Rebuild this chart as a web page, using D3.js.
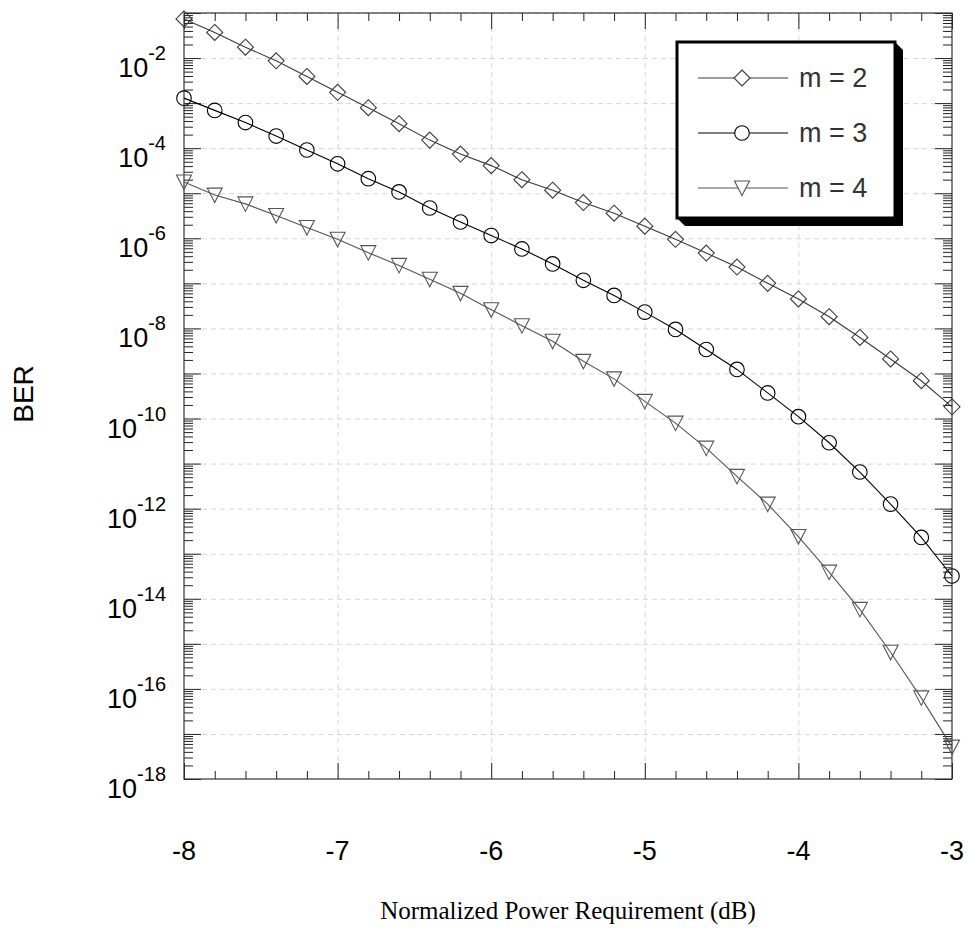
<!DOCTYPE html>
<html>
<head>
<meta charset="utf-8">
<script src="https://cdn.jsdelivr.net/npm/d3@7"></script>
<style>
  html, body { margin: 0; padding: 0; background: #fff; }
  svg { display: block; }
  .grid path { display: none; }
  .grid line { stroke: #d6d6d6; stroke-width: 1; stroke-dasharray: 5 4; }
  .tick-axis path { display: none; }
  .tick-axis line { stroke: #222; stroke-width: 1; }
</style>
</head>
<body>
<div id="chart"></div>
<script>
// BER vs normalized power

const powerDb = [-8, -7.8, -7.6, -7.4, -7.2, -7, -6.8, -6.6, -6.4, -6.2, -6, -5.8, -5.6,
  -5.4, -5.2, -5, -4.8, -4.6, -4.4, -4.2, -4, -3.8, -3.6, -3.4, -3.2, -3];

const berM2 = [7.4e-2, 3.7e-2, 1.74e-2, 8.7e-3, 3.9e-3, 1.74e-3, 7.9e-4, 3.5e-4, 1.51e-4,
  7.4e-5, 4.1e-5, 2.0e-5, 1.17e-5, 6.2e-6, 3.6e-6, 1.86e-6, 9.5e-7, 4.7e-7, 2.3e-7,
  1.0e-7, 4.5e-8, 1.82e-8, 6.3e-9, 2.1e-9, 6.9e-10, 1.82e-10];

const berM3 = [1.29e-3, 6.9e-4, 3.7e-4, 1.86e-4, 9.1e-5, 4.5e-5, 2.1e-5, 1.07e-5, 4.7e-6,
  2.3e-6, 1.15e-6, 5.8e-7, 2.7e-7, 1.17e-7, 5.4e-8, 2.3e-8, 9.5e-9, 3.4e-9, 1.23e-9,
  3.7e-10, 1.1e-10, 2.9e-11, 6.5e-12, 1.26e-12, 2.3e-13, 3.2e-14];

const berM4 = [1.78e-5, 9.1e-6, 5.8e-6, 3.2e-6, 1.74e-6, 9.5e-7, 4.8e-7, 2.5e-7, 1.23e-7,
  6.0e-8, 2.6e-8, 1.15e-8, 5.2e-9, 1.86e-9, 7.6e-10, 2.4e-10, 7.9e-11, 2.2e-11, 5.2e-12,
  1.26e-12, 2.4e-13, 3.9e-14, 5.8e-15, 6.5e-16, 6.3e-17, 5.1e-18];

const seriesNames = ['m = 2', 'm = 3', 'm = 4'];
const xTickValues = [-8, -7, -6, -5, -4, -3];
const yLabelExponents = [-18, -16, -14, -12, -10, -8, -6, -4, -2];
const xTitle = 'Normalized Power Requirement (dB)';
const yTitle = 'BER';

const width = 970;
const height = 938;
const plot = { left: 184, right: 952, top: 13, bottom: 779 };

const svg = d3.select('#chart')
  .append('svg')
  .attr('width', width)
  .attr('height', height);

const x = d3.scaleLinear().domain([-8, -3]).range([plot.left, plot.right]);
const y = d3.scaleLog().domain([1e-18, 1e-1]).range([plot.bottom, plot.top]);

// decade and minor tick positions
const decades = d3.range(-18, 0).map(e => Math.pow(10, e));
const minorY = [];
decades.forEach(d => {
  for (let j = 2; j <= 9; j++) {
    if (d * j < 1e-1) minorY.push(d * j);
  }
});
const minorX = d3.range(-8, -2.99, 0.2).map(v => +v.toFixed(1)).filter(v => !Number.isInteger(v));

const plotW = plot.right - plot.left;
const plotH = plot.bottom - plot.top;

// grid lines
svg.append('g')
  .attr('class', 'grid')
  .attr('transform', `translate(${plot.left},0)`)
  .call(d3.axisLeft(y).tickValues(decades.slice(1)).tickSize(-plotW).tickFormat(''));
svg.append('g')
  .attr('class', 'grid')
  .attr('transform', `translate(0,${plot.bottom})`)
  .call(d3.axisBottom(x).tickValues([-7, -6, -5, -4]).tickSize(-plotH).tickFormat(''));

// inward ticks on all four sides
function tickGroup(axis, tx, ty) {
  svg.append('g')
    .attr('class', 'tick-axis')
    .attr('transform', `translate(${tx},${ty})`)
    .call(axis);
}
tickGroup(d3.axisLeft(y).tickValues(decades).tickSize(-17).tickFormat(''), plot.left, 0);
tickGroup(d3.axisLeft(y).tickValues(minorY).tickSize(-9).tickFormat(''), plot.left, 0);
tickGroup(d3.axisRight(y).tickValues(decades).tickSize(-17).tickFormat(''), plot.right, 0);
tickGroup(d3.axisRight(y).tickValues(minorY).tickSize(-9).tickFormat(''), plot.right, 0);
tickGroup(d3.axisBottom(x).tickValues(xTickValues).tickSize(-16).tickFormat(''), 0, plot.bottom);
tickGroup(d3.axisBottom(x).tickValues(minorX).tickSize(-8).tickFormat(''), 0, plot.bottom);
tickGroup(d3.axisTop(x).tickValues(xTickValues).tickSize(-16).tickFormat(''), 0, plot.top);
tickGroup(d3.axisTop(x).tickValues(minorX).tickSize(-8).tickFormat(''), 0, plot.top);

// frame
svg.append('rect')
  .attr('x', plot.left)
  .attr('y', plot.top)
  .attr('width', plotW)
  .attr('height', plotH)
  .attr('fill', 'none')
  .attr('stroke', '#333')
  .attr('stroke-width', 1.2);

// tick labels
svg.append('g')
  .selectAll('text')
  .data(xTickValues)
  .enter()
  .append('text')
  .attr('x', d => x(d))
  .attr('y', 860)
  .attr('text-anchor', 'middle')
  .attr('font-family', 'Liberation Sans, Arial, sans-serif')
  .attr('font-size', 27)
  .attr('fill', '#000')
  .text(d => d);

const yLabels = svg.append('g')
  .selectAll('text')
  .data(yLabelExponents)
  .enter()
  .append('text')
  .attr('x', 166)
  .attr('y', d => y(Math.pow(10, d)) + 19)
  .attr('text-anchor', 'end')
  .attr('font-family', 'Liberation Sans, Arial, sans-serif')
  .attr('font-size', 27)
  .attr('fill', '#000');
yLabels.append('tspan').text('10');
yLabels.append('tspan')
  .attr('dy', -17)
  .attr('font-size', 20)
  .text(d => d);

// axis titles
svg.append('text')
  .attr('x', (plot.left + plot.right) / 2)
  .attr('y', 919)
  .attr('text-anchor', 'middle')
  .attr('font-family', 'Liberation Serif, Times New Roman, serif')
  .attr('font-size', 25)
  .text(xTitle);

svg.append('text')
  .attr('transform', 'translate(33,394) rotate(-90)')
  .attr('text-anchor', 'middle')
  .attr('font-family', 'Liberation Sans, Arial, sans-serif')
  .attr('font-size', 28)
  .text(yTitle);

// marker shapes
const markerPath = {
  diamond: 'M0,-8L8,0L0,8L-8,0Z',
  circle: 'M7.3,0A7.3,7.3 0 1,1 -7.3,0A7.3,7.3 0 1,1 7.3,0Z',
  triangle: 'M-7.5,-7L7.5,-7L0,7.5Z'
};

const series = [
  { name: seriesNames[0], values: berM2, color: '#3a3a3a', marker: 'diamond' },
  { name: seriesNames[1], values: berM3, color: '#000', marker: 'circle' },
  { name: seriesNames[2], values: berM4, color: '#555', marker: 'triangle' }
];

const line = d3.line()
  .x(d => x(d[0]))
  .y(d => y(d[1]));

series.forEach(s => {
  const pts = powerDb.map((p, i) => [p, s.values[i]]);
  const g = svg.append('g');
  g.append('path')
    .attr('d', line(pts))
    .attr('fill', 'none')
    .attr('stroke', s.color)
    .attr('stroke-width', 1.1);
  g.selectAll('path.mk')
    .data(pts)
    .enter()
    .append('path')
    .attr('class', 'mk')
    .attr('d', markerPath[s.marker])
    .attr('transform', d => `translate(${x(d[0])},${y(d[1])})`)
    .attr('fill', 'none')
    .attr('stroke', s.color)
    .attr('stroke-width', 1.1);
});

// legend with drop shadow
const lg = { x0: 677, y0: 42, x1: 895, y1: 218 };
const shadow = 8;
svg.append('polygon')
  .attr('points', [
    [lg.x0, lg.y1], [lg.x0 + shadow, lg.y1 + shadow], [lg.x1 + shadow, lg.y1 + shadow],
    [lg.x1 + shadow, lg.y0 + shadow], [lg.x1, lg.y0]
  ].map(p => p.join(',')).join(' '))
  .attr('fill', '#000');
svg.append('rect')
  .attr('x', lg.x0)
  .attr('y', lg.y0)
  .attr('width', lg.x1 - lg.x0)
  .attr('height', lg.y1 - lg.y0)
  .attr('fill', '#fff')
  .attr('stroke', '#000')
  .attr('stroke-width', 3);

const rowY = [78, 133, 188];
series.forEach((s, i) => {
  const g = svg.append('g').attr('transform', `translate(0,${rowY[i]})`);
  g.append('line')
    .attr('x1', 698).attr('x2', 788)
    .attr('stroke', s.color)
    .attr('stroke-width', 1.1);
  g.append('path')
    .attr('d', markerPath[s.marker])
    .attr('transform', 'translate(742,0)')
    .attr('fill', '#fff')
    .attr('stroke', s.color)
    .attr('stroke-width', 1.1);
  g.append('text')
    .attr('x', 799)
    .attr('y', 9)
    .attr('font-family', 'Liberation Sans, Arial, sans-serif')
    .attr('font-size', 27)
    .attr('fill', '#333')
    .attr('xml:space', 'preserve')
    .text(s.name);
});
</script>
</body>
</html>
